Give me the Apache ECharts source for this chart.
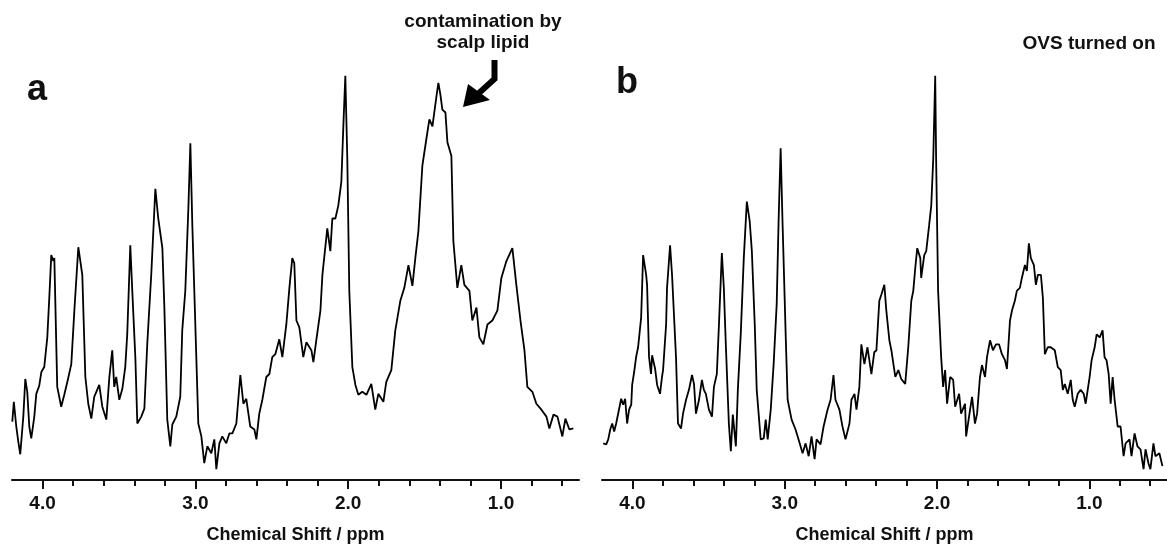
<!DOCTYPE html>
<html><head><meta charset="utf-8">
<script src="https://cdn.jsdelivr.net/npm/echarts@6/dist/echarts.min.js"></script>
<style>html,body{margin:0;padding:0;background:#fff}#c{width:1167px;height:549px}</style>
</head><body><div id="c"></div>
<script>
// Panel a: spectrum before OVS (ppm, intensity a.u.)
const ppmA = [4.198,4.188,4.172,4.159,4.146,4.126,4.113,4.100,4.087,4.074,4.054,4.041,4.022,4.008,3.989,3.969,3.956,3.943,3.930,3.923,3.904,3.878,3.858,3.838,3.812,3.792,3.766,3.740,3.720,3.701,3.681,3.662,3.629,3.609,3.583,3.563,3.544,3.531,3.518,3.498,3.478,3.459,3.446,3.426,3.413,3.393,3.380,3.354,3.334,3.315,3.289,3.262,3.243,3.216,3.203,3.184,3.164,3.151,3.125,3.099,3.086,3.066,3.046,3.033,3.020,2.994,2.981,2.961,2.942,2.922,2.896,2.876,2.863,2.843,2.824,2.798,2.778,2.758,2.732,2.706,2.686,2.667,2.641,2.614,2.601,2.582,2.562,2.536,2.516,2.497,2.477,2.451,2.431,2.405,2.385,2.366,2.353,2.339,2.320,2.294,2.274,2.241,2.228,2.209,2.182,2.169,2.137,2.117,2.104,2.084,2.065,2.045,2.032,2.019,2.006,1.993,1.973,1.953,1.934,1.908,1.881,1.849,1.823,1.803,1.770,1.751,1.718,1.692,1.659,1.633,1.606,1.580,1.561,1.541,1.515,1.489,1.469,1.449,1.423,1.410,1.397,1.384,1.364,1.351,1.325,1.312,1.286,1.260,1.240,1.207,1.188,1.161,1.142,1.116,1.089,1.057,1.024,0.998,0.965,0.926,0.900,0.873,0.847,0.828,0.795,0.769,0.736,0.703,0.684,0.657,0.631,0.599,0.579,0.553,0.527];
const intA = [59,79,54,39,26,64,102,89,54,42,64,87,95,109,114,144,184,227,221,224,94,74,86,99,117,171,235,207,104,77,62,84,96,74,61,104,131,94,104,81,92,114,147,237,191,124,57,64,72,137,207,294,264,234,174,61,34,56,64,84,151,191,274,340,257,124,57,44,17,34,27,41,11,37,44,37,47,47,57,106,77,82,54,51,41,67,81,104,107,124,127,142,124,157,194,224,219,161,154,124,139,131,119,141,171,207,254,231,264,264,277,301,357,408,324,191,114,96,86,89,86,97,71,87,79,99,111,151,181,194,217,196,224,251,317,344,364,357,387,401,389,374,371,341,327,241,194,217,197,191,161,174,144,137,157,161,171,204,221,234,197,161,131,94,89,77,71,64,52,66,64,44,62,51,52];
// Panel b: spectrum with OVS turned on
const ppmB = [4.192,4.172,4.159,4.146,4.133,4.120,4.107,4.094,4.074,4.061,4.048,4.035,4.022,4.008,4.002,3.989,3.976,3.963,3.943,3.930,3.910,3.904,3.891,3.878,3.871,3.851,3.838,3.819,3.806,3.799,3.779,3.773,3.753,3.740,3.714,3.701,3.681,3.668,3.648,3.629,3.609,3.596,3.583,3.563,3.544,3.531,3.518,3.498,3.478,3.465,3.446,3.432,3.413,3.400,3.387,3.367,3.354,3.341,3.321,3.308,3.289,3.269,3.249,3.230,3.216,3.197,3.184,3.158,3.138,3.125,3.112,3.092,3.073,3.053,3.040,3.027,3.014,2.994,2.981,2.955,2.929,2.902,2.883,2.863,2.843,2.824,2.804,2.791,2.765,2.745,2.719,2.699,2.680,2.667,2.641,2.621,2.601,2.575,2.562,2.542,2.529,2.510,2.497,2.477,2.457,2.431,2.412,2.398,2.379,2.366,2.346,2.333,2.313,2.300,2.274,2.254,2.235,2.209,2.189,2.169,2.156,2.143,2.130,2.110,2.104,2.084,2.071,2.052,2.038,2.025,2.012,2.006,1.993,1.973,1.960,1.947,1.934,1.914,1.894,1.881,1.855,1.842,1.816,1.809,1.783,1.770,1.751,1.737,1.718,1.705,1.685,1.672,1.652,1.633,1.613,1.593,1.574,1.554,1.541,1.521,1.508,1.489,1.476,1.456,1.443,1.423,1.410,1.397,1.384,1.364,1.351,1.338,1.318,1.305,1.292,1.273,1.253,1.227,1.207,1.188,1.174,1.161,1.142,1.122,1.109,1.096,1.076,1.057,1.037,1.024,0.998,0.985,0.965,0.952,0.932,0.913,0.900,0.887,0.873,0.860,0.847,0.834,0.814,0.795,0.775,0.762,0.736,0.723,0.703,0.684,0.664,0.644,0.631,0.612,0.599,0.579,0.566,0.540,0.520];
const intB = [37,36,41,51,57,49,57,57,82,76,82,57,71,76,96,109,124,134,164,227,207,197,124,107,126,112,96,87,104,111,157,194,237,207,124,57,52,67,81,91,106,97,67,81,101,91,87,71,64,94,107,157,229,194,137,57,29,66,34,91,147,224,281,261,231,157,91,41,42,61,41,71,117,177,264,335,257,147,81,61,51,37,27,37,24,44,21,41,36,54,71,81,106,81,71,54,41,57,81,87,71,94,137,117,134,107,129,131,181,187,197,171,141,131,104,111,102,97,134,181,191,214,234,224,204,227,231,257,277,324,408,324,191,124,94,111,77,104,101,74,87,67,77,44,71,84,57,67,104,116,104,124,141,131,137,137,127,121,112,161,171,181,191,194,204,217,211,239,224,217,197,207,207,184,127,134,134,131,114,111,91,97,87,101,81,74,87,91,87,77,104,121,134,147,144,151,124,121,107,77,104,81,54,54,24,37,41,24,47,34,31,11,31,17,11,37,24,27,14];

const majorTicks = [1.0, 2.0, 3.0, 4.0];
const minorTicks = [0.6,0.8,1.2,1.4,1.6,1.8,2.2,2.4,2.6,2.8,3.2,3.4,3.6,3.8];
const X_MIN = 0.49, X_MAX = 4.2;
const axisTitle = 'Chemical Shift / ppm';
const panelLabels = ['a', 'b'];
const noteA = ['contamination by', 'scalp lipid'];
const noteB = 'OVS turned on';

const FONT = '"Liberation Sans", Arial, Helvetica, sans-serif';
const INK = '#111';
const gridLefts = [12, 602];

const grids = gridLefts.map(l => ({left: l, top: 60, width: 567, height: 424}));
const xAxes = [], yAxes = [];
gridLefts.forEach((l, i) => {
  xAxes.push({
    gridIndex: i, type: 'value', position: 'bottom', min: X_MIN, max: X_MAX, inverse: true,
    axisLine: {show: true, onZero: false, lineStyle: {color: INK, width: 2}},
    axisTick: {show: true, length: 9, lineStyle: {color: INK, width: 2}, customValues: majorTicks},
    axisLabel: {customValues: majorTicks, formatter: v => Number(v).toFixed(1), fontSize: 19, fontWeight: 'bold',
                color: INK, margin: 14, fontFamily: FONT},
    splitLine: {show: false},
    name: axisTitle, nameLocation: 'middle', nameGap: 46,
    nameTextStyle: {fontSize: 18, fontWeight: 'bold', color: INK, fontFamily: FONT}
  });
  xAxes.push({
    gridIndex: i, type: 'value', position: 'bottom', offset: 0, min: X_MIN, max: X_MAX, inverse: true,
    axisLine: {show: false, onZero: false},
    axisTick: {show: true, length: 6, lineStyle: {color: INK, width: 2}, customValues: minorTicks},
    axisLabel: {show: false}, splitLine: {show: false}
  });
  yAxes.push({gridIndex: i, type: 'value', min: 0, max: 424, show: false});
});

const mk = (px, iy) => px.map((p, k) => [p, iy[k]]);
const series = [
  {type: 'line', xAxisIndex: 0, yAxisIndex: 0, data: mk(ppmA, intA), showSymbol: false, symbol: 'none',
   lineStyle: {color: '#000', width: 1.8}, silent: true},
  {type: 'line', xAxisIndex: 2, yAxisIndex: 1, data: mk(ppmB, intB), showSymbol: false, symbol: 'none',
   lineStyle: {color: '#000', width: 1.8}, silent: true}
];

const txt = (t, x, y, size, align) => ({type: 'text', style: {text: t, x: x, y: y, fill: INK,
  font: 'bold ' + size + 'px ' + FONT, textAlign: align || 'center', textVerticalAlign: 'middle'}});

const graphic = [
  txt(panelLabels[0], 37, 90, 36),
  txt(panelLabels[1], 627, 83, 36),
  txt(noteA[0], 483, 22, 19),
  txt(noteA[1], 483, 43, 19),
  txt(noteB, 1089, 44, 19),
  {type: 'polyline', shape: {points: [[494.5, 60], [494.5, 79], [479, 93]]},
   style: {stroke: '#000', lineWidth: 6, fill: null, lineJoin: 'miter'}},
  {type: 'polygon', shape: {points: [[463, 107], [468, 84], [490, 100]]}, style: {fill: '#000'}}
];

const chart = echarts.init(document.getElementById('c'), null, {renderer: 'canvas'});
chart.setOption({animation: false, backgroundColor: '#fff', grid: grids, xAxis: xAxes, yAxis: yAxes,
  series: series, graphic: graphic});
</script></body></html>
